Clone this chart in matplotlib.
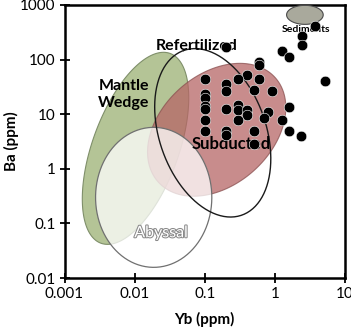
import numpy as np
import matplotlib
matplotlib.use("Agg")
import matplotlib.pyplot as plt
import matplotlib.patheffects as pe
from matplotlib.ticker import FixedLocator, FixedFormatter, NullLocator

plt.rcParams["font.family"] = ["Lato", "DejaVu Sans"]

# ── sample data (Yb, Ba in ppm) ───────────────────────────────────────────────
yb = [3.73, 2.45, 2.45, 0.198, 1.27, 1.58, 0.60, 0.60, 0.40, 0.10,
      0.30, 0.60, 5.18, 0.198, 0.506, 0.198, 0.90, 0.10, 0.10, 0.30,
      0.10, 0.10, 1.58, 0.198, 0.30, 0.40, 0.80, 0.40, 0.70, 0.10,
      0.30, 1.27, 0.10, 0.198, 0.506, 1.58, 0.198, 2.35, 0.506]
ba = [412, 270, 183, 170, 144, 112, 90, 79, 52, 43.6,
      43.6, 43.6, 40, 36.3, 28.2, 26.6, 26.6, 23.1, 20.1, 15,
      14, 12.5, 13.5, 12.7, 11.8, 11.8, 11, 9.5, 8.5, 7.8,
      7.8, 7.8, 4.9, 4.9, 4.9, 4.9, 4.1, 3.94, 2.9]

# ── fields: centre (Yb, Ba) and two semi-axis vectors in log decades ─────────
mantle_c = (0.0103, 2.37)
mantle_u = (0.493, 1.738)
mantle_v = (0.577, -0.269)

subducted_c = (0.148, 5.18)
subducted_u = (0.834, 0.956)
subducted_v = (0.526, -0.753)

abyssal_c = (0.0187, 0.30)
abyssal_u = (0.0, 1.282)
abyssal_v = (0.829, 0.0)

refert_c = (0.130, 4.56)
refert_u = (-0.414, 1.508)
refert_v = (0.717, 0.324)

sed_c = (2.68, 660)
sed_u = (0.0, 0.174)
sed_v = (0.261, 0.0)

x_ticks = [0.001, 0.01, 0.1, 1, 10]
x_labels = ["0.001", "0.01", "0.1", "1", "10"]
y_ticks = [0.01, 0.1, 1, 10, 100, 1000]
y_labels = ["0.01", "0.1", "1", "10", "100", "1000"]


def field(c, u, v, n=200):
    t = np.linspace(0, 2 * np.pi, n)
    lx = np.log10(c[0]) + np.cos(t) * u[0] + np.sin(t) * v[0]
    ly = np.log10(c[1]) + np.cos(t) * u[1] + np.sin(t) * v[1]
    return 10 ** lx, 10 ** ly


fig = plt.figure(figsize=(3.51, 3.33), dpi=100)
ax = fig.add_axes([64.5 / 351, 1 - 278 / 333, 280.5 / 351, 273 / 333])
ax.set_xscale("log")
ax.set_yscale("log")
ax.set_xlim(0.001, 10)
ax.set_ylim(0.01, 1000)

fx, fy = field(mantle_c, mantle_u, mantle_v)
ax.fill(fx, fy, facecolor="#b4c496", edgecolor="#7f8f6a", linewidth=0.8, zorder=1)
fx, fy = field(subducted_c, subducted_u, subducted_v)
ax.fill(fx, fy, facecolor="#b66666", alpha=0.75, edgecolor="#8a5050", linewidth=0.8, zorder=2)
fx, fy = field(abyssal_c, abyssal_u, abyssal_v)
ax.fill(fx, fy, facecolor="white", alpha=0.75, edgecolor="none", zorder=3)
ax.plot(fx, fy, color="#707070", linewidth=0.9, zorder=3)
fx, fy = field(refert_c, refert_u, refert_v)
ax.plot(fx, fy, color="#1a1a1a", linewidth=1.0, zorder=4)
fx, fy = field(sed_c, sed_u, sed_v)
ax.fill(fx, fy, facecolor="#a9a99c", edgecolor="#4a4a4a", linewidth=0.8, zorder=4)

ax.scatter(yb, ba, s=58, color="black", edgecolors="white", linewidths=0.4, zorder=6)

ax.text(0.00697, 23.1, "Mantle\nWedge", ha="center", va="center", fontsize=11.5,
        fontweight="bold", linespacing=1.3, zorder=7)
ax.text(0.0769, 175, "Refertilized", ha="center", va="center", fontsize=11.5,
        fontweight="bold", zorder=5)
ax.text(0.239, 2.81, "Subducted", ha="center", va="center", fontsize=12,
        fontweight="bold", zorder=5)
ax.text(0.0239, 0.066, "Abyssal", ha="center", va="center", fontsize=11.5,
        color="white", zorder=7,
        path_effects=[pe.withStroke(linewidth=1.5, foreground="#8a8a8a")])
ax.text(2.82, 359, "Sediments", ha="center", va="center", fontsize=7.5,
        fontweight="bold", zorder=5)

ax.xaxis.set_major_locator(FixedLocator(x_ticks))
ax.xaxis.set_major_formatter(FixedFormatter(x_labels))
ax.yaxis.set_major_locator(FixedLocator(y_ticks))
ax.yaxis.set_major_formatter(FixedFormatter(y_labels))
ax.xaxis.set_minor_locator(NullLocator())
ax.yaxis.set_minor_locator(NullLocator())
ax.tick_params(direction="inout", length=7, width=1.3, labelsize=11, pad=3, colors="black")

for s in ax.spines.values():
    s.set_linewidth(1.8)

ax.set_xlabel("Yb (ppm)", fontsize=11, fontweight="bold", labelpad=8)
ax.set_ylabel("Ba (ppm)", fontsize=11, fontweight="bold", labelpad=1)

fig.savefig("out.png", dpi=100)
